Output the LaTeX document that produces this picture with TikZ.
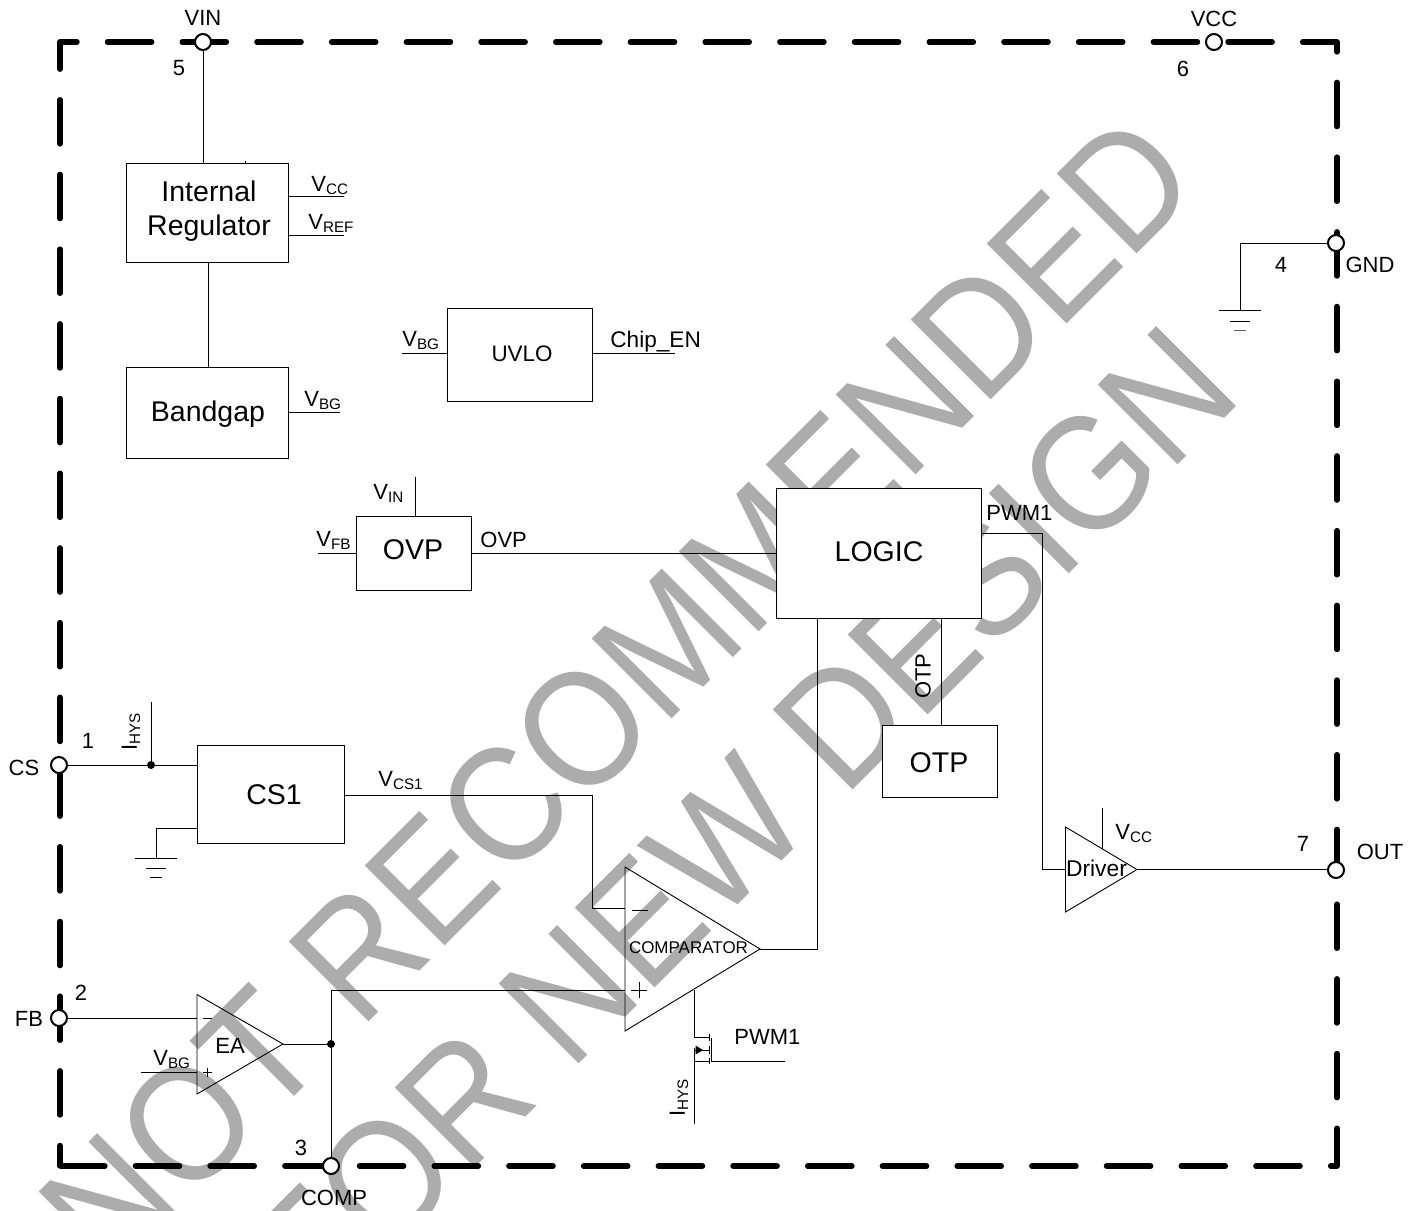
\documentclass[tikz,border=0pt]{standalone}
\usepackage{fontspec}
\setmainfont{Liberation Sans}
\newfontfamily\wmfont[Kerning=Off]{Liberation Sans}
\newcommand{\Sb}[2]{#1\raisebox{-1.6pt}{\fontsize{7.6}{8}\selectfont #2}}
\tikzset{
 wire/.style={line width=0.5pt,black},
 blk/.style={draw=black,line width=0.5pt,inner sep=0,font=\fontsize{14.25}{17}\selectfont,align=center},
 whiteblk/.style={blk,fill=white},
 tri/.style={draw=black,line width=0.45pt,line join=miter},
 pin/.style={circle,draw=black,fill=white,line width=1pt,minimum size=8pt,inner sep=0},
 lab/.style={inner sep=0,anchor=base west,font=\fontsize{11}{13}\selectfont},
 ctr/.style={inner sep=0,anchor=center,font=\fontsize{11}{13}\selectfont},
 big/.style={inner sep=0,anchor=center,font=\fontsize{14.25}{17}\selectfont},
 dot/.style={circle,fill=black,minimum size=4pt,inner sep=0},
 wm/.style={rotate=45,inner sep=0,text=wmgray,anchor=base east,yscale=1.11,font=\wmfont\fontsize{74}{80}\selectfont},
 border/.style={line width=2.7pt,black,line cap=round,line join=round,dash pattern=on 22.1pt off 15.25pt,dash phase=11.85pt},
}
\definecolor{wmgray}{RGB}{172,172,172}
\begin{document}
\begin{tikzpicture}[x=0.5pt,y=-0.5pt]
\useasboundingbox (0,0) rectangle (1421,1211);
\begin{scope}
\clip (0,0) rectangle (1421,1211);
\node[wm] (wm1) at (1204.2,186.8) {NOT RECOMMENDED};
\node[wm] (wm2) at (1245.6,397.4) {FOR NEW DESIGN};
\end{scope}
% border
\coordinate (cbl) at (60,1166);
\coordinate (ctl) at (60,42);
\coordinate (ctr) at (1337,42);
\coordinate (cbr) at (1337,1166);
\draw[border] (cbl) -- (ctl) -- (ctr) -- (cbr) -- (cbl);
% boxes
\node[blk,minimum width=81pt,minimum height=49.7pt] (reg) at (207,213) {};
\node[big] (regt1) at (209,191.5) {Internal};
\node[big] (regt2) at (209,228.5) {Regulator};
\node[blk,minimum width=81pt,minimum height=45.5pt] (bg) at (207,412.5) {};
\node[big] (bgt) at (208,414) {Bandgap};
\node[blk,minimum width=72.5pt,minimum height=46.5pt] (uvlo) at (520,354.5) {};
\node[ctr,font=\fontsize{11.2}{13}\selectfont] (uvlot) at (522,354) {UVLO};
\node[blk,minimum width=57.2pt,minimum height=37pt] (ovp) at (414,553) {};
\node[big] (ovpt) at (413,550) {OVP};
\node[whiteblk,minimum width=102.7pt,minimum height=65pt] (logic) at (879,553) {};
\node[big] (logict) at (879,552) {LOGIC};
\node[whiteblk,minimum width=57.5pt,minimum height=35.7pt] (otp) at (939.5,761.5) {};
\node[big] (otpt) at (939,763) {OTP};
\node[blk,minimum width=73.5pt,minimum height=49pt] (cs1) at (270.5,794) {};
\node[big] (cs1t) at (274,795) {CS1};
% pins
\coordinate (pvin) at (203,42);
\coordinate (pvcc) at (1214,42);
\coordinate (pgnd) at (1336,243);
\coordinate (pout) at (1336,870);
\coordinate (pcs) at (59,765);
\coordinate (pfb) at (59,1018);
\coordinate (pcomp) at (331,1166);
% triangles
\coordinate (ca) at (625,867);\coordinate (cb) at (625,1031);\coordinate (cc) at (760,949);
\coordinate (ea) at (197,994.5);\coordinate (eb) at (197,1094);\coordinate (ec) at (283,1044);
\coordinate (da) at (1065.5,827);\coordinate (db) at (1065.5,912);\coordinate (dc) at (1137,869.5);
\draw[tri] (ca)--(cb)--(cc)--cycle;
\draw[tri] (ea)--(eb)--(ec)--cycle;
\draw[tri] (da)--(db)--(dc)--cycle;
\node[ctr,font=\fontsize{8.5}{10}\selectfont] (cmpt) at (688.5,948) {COMPARATOR};
\node[ctr] (eat) at (230,1046) {EA};
\node[ctr,font=\fontsize{11.4}{13}\selectfont] (drvt) at (1096.5,868) {Driver};
% comparator / EA signs
\coordinate (cm) at (640,910);\coordinate (cp) at (639,990);
\draw[wire,line width=0.35pt] (cm)++(-8,0) -- ++(16,0);
\draw[wire,line width=0.35pt] (cp)++(-8,0) -- ++(16,0);
\draw[wire,line width=0.35pt] (cp)++(0,-8) -- ++(0,16);
\coordinate (em) at (207.5,1018);\coordinate (ep) at (207.5,1072);
\draw[wire,line width=0.35pt] (em)++(-4.5,0) -- ++(9,0);
\draw[wire,line width=0.35pt] (ep)++(-4.5,0) -- ++(9,0);
\draw[wire,line width=0.35pt] (ep)++(0,-4.5) -- ++(0,9);
% wires: regulator
\coordinate (tick) at (245,161);
\draw[wire] (pvin) -- (pvin |- reg.north);
\draw[wire] (tick) -- (tick |- reg.north);
\coordinate (evcc) at (344,196);\coordinate (evref) at (344,235);
\draw[wire] (evcc -| reg.east) -- (evcc);
\draw[wire] (evref -| reg.east) -- (evref);
\coordinate (xrb) at (208,300);
\draw[wire] (xrb |- reg.south) -- (xrb |- bg.north);
\coordinate (evbg) at (340,412);
\draw[wire] (evbg -| bg.east) -- (evbg);
% UVLO
\coordinate (euv1) at (402,353.5);\coordinate (euv2) at (675,353.5);
\draw[wire] (euv1) -- (euv1 -| uvlo.west);
\draw[wire] (uvlo.east |- euv2) -- (euv2);
% OVP
\coordinate (evin) at (415,477);\coordinate (evfb) at (318,553);
\draw[wire] (evin) -- (evin |- ovp.north);
\draw[wire] (evfb) -- (evfb -| ovp.west);
\draw[wire] (ovp.east |- evfb) -- (logic.west |- evfb);
% logic
\coordinate (kpwm) at (1042,533);
\draw[wire] (logic.east |- kpwm) -- (kpwm) -- (kpwm |- dc) -- (da |- dc);
\coordinate (xotp) at (941,650);
\draw[wire] (xotp |- logic.south) -- (xotp |- otp.north);
% driver
\coordinate (edrv) at (1102,808);\coordinate (idrv) at (1102,849);
\draw[wire] (edrv) -- (idrv);
\draw[wire] (dc) -- (pout |- dc);
% GND
\coordinate (kgnd) at (1240,243);\coordinate (g1) at (1240,310);
\draw[wire] (pgnd) -- (kgnd) -- (g1);
\draw[wire] (g1)++(-21,0) -- ++(42,0);
\draw[wire] (g1)++(-10,11) -- ++(20,0);
\draw[wire,black!60] (g1)++(-6,20) -- ++(12,0);
% CS
\coordinate (ihys) at (151,702);
\coordinate (jcs) at (151,765);
\draw[wire] (pcs) -- (pcs -| cs1.west);
\draw[wire] (ihys) -- (jcs);
\node[dot] (dcs) at (jcs) {};
\coordinate (kg2) at (156,828);\coordinate (g2) at (156,858);
\draw[wire] (kg2 -| cs1.west) -- (kg2) -- (g2);
\draw[wire] (g2)++(-21,0) -- ++(42,0);
\draw[wire] (g2)++(-10,10) -- ++(20,0);
\draw[wire] (g2)++(-6,19) -- ++(12,0);
\coordinate (kvcs) at (592,795);\coordinate (minus) at (625,908);
\draw[wire] (cs1.east |- kvcs) -- (kvcs) -- (kvcs |- minus) -- (minus);
% comparator
\coordinate (kcmp) at (817,949);
\draw[wire] (cc) -- (kcmp) -- (kcmp |- logic.south);
\coordinate (plus) at (625,990);\coordinate (kplus) at (331,990);
\draw[wire] (plus) -- (kplus) -- (pcomp);
\coordinate (jea) at (331,1044);
\draw[wire] (ec) -- (jea);
\node[dot] (dea) at (jea) {};
\draw[wire] (pfb) -- (ea |- pfb);
\coordinate (evbg2) at (141,1072);
\draw[wire] (evbg2) -- (ea |- evbg2);
% MOSFET
\coordinate (mtop) at (694,990);\coordinate (md) at (694,1037);\coordinate (mdr) at (709,1037);
\coordinate (ms) at (694,1061);\coordinate (msr) at (709,1061);
\coordinate (msb) at (694,1124);\coordinate (msm) at (694,1048);
\coordinate (marr) at (709,1050);
\coordinate (mg1) at (711.5,1038);\coordinate (mg2) at (711.5,1061);\coordinate (mge) at (785,1061);
\draw[wire] (mtop) -- (md) -- (mdr);
\draw[wire] (msm) -- (msb);
\draw[wire] (ms) -- (msr);
\draw[wire] (marr) -- (msm |- marr);
\draw[wire,line width=0.4pt] (709,1034) -- (709,1041);
\draw[wire,line width=0.4pt] (709,1046) -- (709,1054);
\draw[wire,line width=0.4pt] (709,1058) -- (709,1064);
\draw[wire] (mg1) -- (mg2) -- (mge);
\fill[black] (703,1050) -- (695.5,1045.5) -- (695.5,1054.5) -- cycle;
% pin circles
\node[pin] (nvin) at (pvin) {};
\node[pin] (nvcc) at (pvcc) {};
\node[pin] (ngnd) at (pgnd) {};
\node[pin] (nout) at (pout) {};
\node[pin] (ncs) at (pcs) {};
\node[pin] (nfb) at (pfb) {};
\node[pin] (ncomp) at (pcomp) {};
% labels
\node[ctr] (lvin) at (203,18) {VIN};
\node[ctr] (l5) at (179,68) {5};
\node[ctr] (lvcc) at (1214,19) {VCC};
\node[ctr] (l6) at (1183,69) {6};
\node[ctr] (l4) at (1281,265) {4};
\node[ctr] (lgnd) at (1370,265) {GND};
\node[ctr] (l7) at (1303,844) {7};
\node[ctr] (lout) at (1380,852) {OUT};
\node[ctr] (lcs) at (24,768) {CS};
\node[ctr] (l1) at (88,741) {1};
\node[ctr] (lfb) at (29,1019) {FB};
\node[ctr] (l2) at (81,993) {2};
\node[ctr] (l3) at (301,1148) {3};
\node[ctr] (lcomp) at (334,1198) {COMP};
\node[lab] (lrvcc) at (311,191) {\Sb{V}{CC}};
\node[lab] (lrvref) at (308,229) {\Sb{V}{REF}};
\node[lab] (lbvbg) at (304,406) {\Sb{V}{BG}};
\node[lab] (luvbg) at (402,346) {\Sb{V}{BG}};
\node[lab,font=\fontsize{11.3}{13}\selectfont] (lchip) at (610,347) {Chip\_EN};
\node[lab] (lvin2) at (373,499) {\Sb{V}{IN}};
\node[lab] (lvfb) at (316,546) {\Sb{V}{FB}};
\node[lab] (lovp) at (480,547) {OVP};
\node[lab] (lpwm) at (986,520) {PWM1};
\node[lab] (lvcs) at (378,786) {\Sb{V}{CS1}};
\node[lab] (ldvcc) at (1115,839) {\Sb{V}{CC}};
\node[lab] (levbg) at (153,1065) {\Sb{V}{BG}};
\node[lab] (lmpwm) at (734,1044) {PWM1};
\node[ctr,rotate=90] (lotp) at (923,676) {OTP};
\node[ctr,rotate=90] (lih1) at (131,732) {\Sb{I}{HYS}};
\node[ctr,rotate=90] (lih2) at (679,1098) {\Sb{I}{HYS}};
\end{tikzpicture}
\end{document}
